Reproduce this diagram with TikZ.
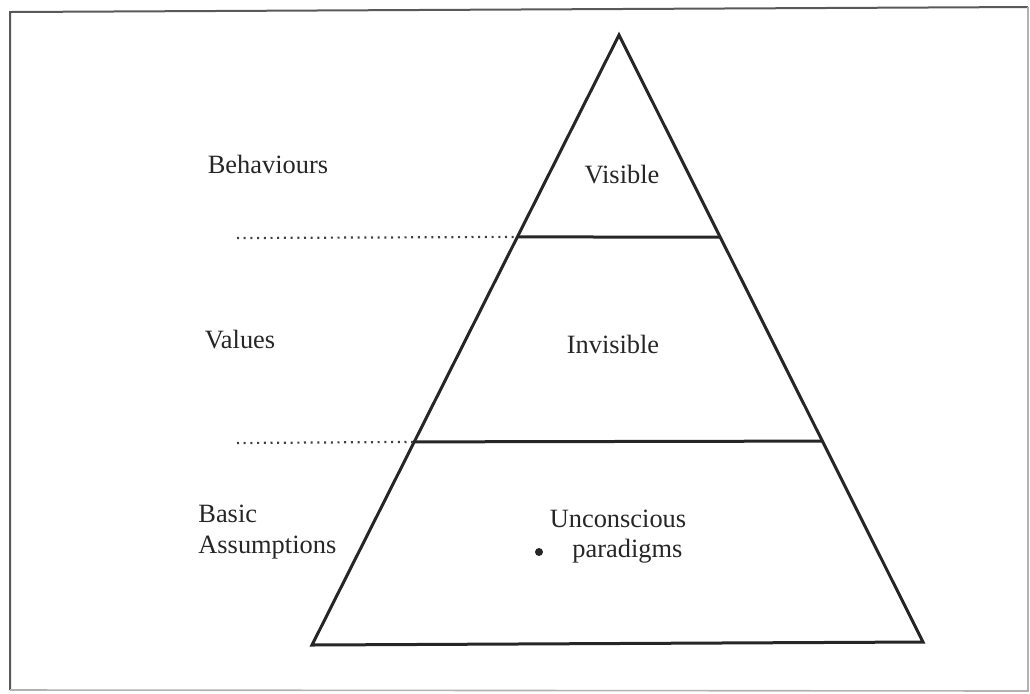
\documentclass[tikz,border=0pt]{standalone}
\usepackage{fontspec}
\setmainfont{Liberation Serif}
\usetikzlibrary{calc}
\begin{document}
\begin{tikzpicture}[x=0.5pt,y=-0.5pt,
  labeltext/.style={font=\fontsize{13.2}{15.5}\selectfont, text=black!85, inner sep=0pt, anchor=base},
  edgeline/.style={line width=1.5pt, draw=black!85, line join=miter},
  divider/.style={line width=1.5pt, draw=black!85},
  guide/.style={line width=1.1pt, draw=black!75, dash pattern=on 1pt off 2.35pt},
  framedark/.style={line width=1pt, draw=black!65},
  framelight/.style={line width=0.8pt, draw=black!30}]
\useasboundingbox (0,0) rectangle (1030,693);

% outer frame
\coordinate (f1) at (10,690);
\coordinate (f2) at (10,12);
\coordinate (f3) at (1028,7);
\coordinate (f4) at (1028,691);
\draw[framedark] (f1) -- (f2) -- (f3);
\draw[framelight] (f3) -- (f4) -- (f1);

% pyramid
\coordinate (apex) at (619,35);
\coordinate (bl) at (312,645);
\coordinate (br) at (923,642);
\draw[edgeline] (apex) -- (bl) -- (br) -- cycle;

% layer boundaries
\coordinate (l1) at ($(apex)!0.331!(bl)$);
\coordinate (r1) at ($(apex)!0.333!(br)$);
\coordinate (l2) at ($(apex)!0.667!(bl)$);
\coordinate (r2) at ($(apex)!0.669!(br)$);
\draw[divider] (l1) -- (r1);
\draw[divider] (l2) -- (r2);

% dotted guides to the level names
\coordinate (g1) at (237,238);
\coordinate (g2) at (237,443);
\draw[guide] (g1) -- (l1);
\draw[guide] (g2) -- (l2);

% level names
\node[labeltext] (behaviours) at (268,173) {Behaviours};
\node[labeltext] (values) at (240,348) {Values};
\node[labeltext, anchor=base west] (basic) at (198,522) {Basic};
\node[labeltext, anchor=base west] (assumptions) at (198,553) {Assumptions};

% layer contents
\node[labeltext] (visible) at (622,183) {Visible};
\node[labeltext] (invisible) at (613,353) {Invisible};
\node[labeltext] (unconscious) at (618,527) {Unconscious};
\node[labeltext, anchor=base west] (paradigms) at (572,557) {paradigms};
\node[circle, fill=black!85, inner sep=0pt, minimum size=4pt] (bullet) at (539,552) {};
\end{tikzpicture}
\end{document}
